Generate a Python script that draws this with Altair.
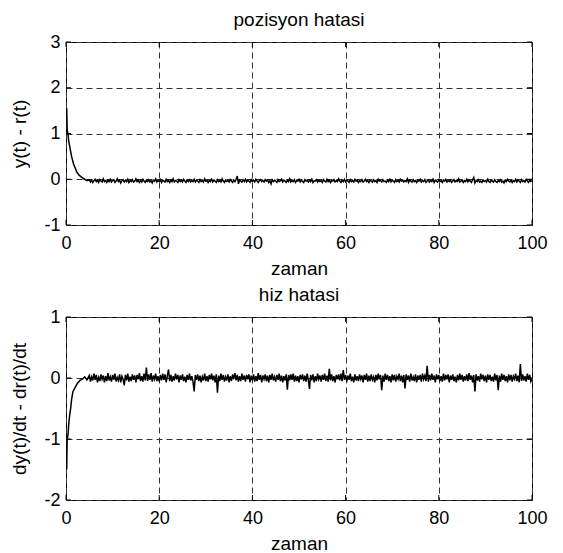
import altair as alt
import pandas as pd

# ---------------- data ----------------
x_ticks = [0, 20, 40, 60, 80, 100]
pos_ticks = [-1, 0, 1, 2, 3]
vel_ticks = [-2, -1, 0, 1]

# transient part (t < 5)
pos_t_start = [0.15, 0.25, 0.4, 0.6, 0.9, 1.2, 1.6, 2.0, 2.3, 2.8, 3.4, 4.0, 4.5]
pos_start = [1.55, 1.08, 1.0, 0.82, 0.66, 0.5, 0.34, 0.24, 0.16, 0.09, 0.04, 0.0, -0.03]

vel_t_start = [0.15, 0.25, 0.4, 0.6, 0.8, 1.0, 1.2, 1.5, 2.0, 2.5, 3.0, 3.5, 4.0, 4.5]
vel_start = [-1.5, -1.0, -0.95, -0.75, -0.6, -0.5, -0.35, -0.22, -0.15, -0.08, -0.04, -0.02, 0.02, -0.03]

# steady part, t = 5 ... 100 every 0.25
pos_steady = [
    -0.01, -0.06, -0.02, -0.07, -0.03, 0.00, -0.05, -0.02, -0.07, -0.01,
    -0.04, -0.06, 0.01, -0.05, -0.03, -0.07, -0.02, -0.05, 0.00, -0.06,
    -0.03, -0.01, -0.07, -0.04, 0.01, -0.05, -0.02, -0.08, -0.03, -0.01,
    -0.06, -0.02, -0.05, 0.00, -0.07, -0.03, -0.05, -0.01, -0.06, -0.04,
    0.01, -0.05, -0.02, -0.07, -0.03, -0.06, 0.00, -0.04, -0.07, -0.02,
    -0.05, -0.01, -0.06, -0.03, -0.08, -0.02, -0.04, 0.01, -0.06, -0.03,
    -0.05, -0.01, -0.07, -0.02, -0.04, -0.06, 0.00, -0.05, -0.03, -0.07,
    -0.02, -0.05, 0.01, -0.06, -0.03, -0.04, -0.07, -0.01, -0.05, -0.02,
    -0.06, 0.00, -0.04, -0.07, -0.02, -0.05, -0.01, -0.06, -0.03, -0.05,
    0.00, -0.06, -0.02, -0.04, -0.07, -0.01, -0.05, -0.03, -0.06, 0.01,
    -0.04, -0.02, -0.07, -0.03, -0.05, 0.00, -0.06, -0.02, -0.04, -0.07,
    -0.01, -0.05, -0.03, -0.06, 0.01, -0.04, -0.07, -0.02, -0.05, -0.03,
    -0.06, -0.01, -0.04, -0.07, -0.02, -0.05, 0.00, 0.07, -0.10, -0.02,
    -0.04, -0.06, -0.01, -0.05, 0.00, -0.06, -0.02, -0.04, -0.07, -0.01,
    -0.05, -0.02, -0.06, 0.00, -0.04, -0.07, -0.03, -0.01, -0.05, -0.03,
    -0.06, -0.01, -0.04, -0.02, -0.07, -0.03, -0.10, -0.01, -0.05, -0.02,
    -0.04, -0.07, -0.01, -0.05, -0.03, 0.00, -0.06, -0.02, -0.04, -0.07,
    -0.02, -0.05, 0.01, -0.06, -0.03, -0.05, -0.01, -0.07, -0.03, -0.04,
    0.00, -0.06, -0.02, -0.05, -0.07, -0.01, -0.04, -0.03, -0.06, -0.02,
    -0.05, 0.00, -0.07, -0.03, -0.04, -0.01, -0.06, -0.02, -0.05, -0.03,
    -0.07, -0.01, -0.04, -0.06, 0.00, -0.05, -0.02, -0.07, -0.03, -0.04,
    -0.01, -0.06, -0.03, -0.05, 0.01, -0.04, -0.07, -0.02, -0.05, 0.00,
    -0.06, -0.02, -0.04, -0.07, -0.01, -0.05, -0.03, -0.06, 0.00, -0.04,
    -0.02, -0.07, -0.03, -0.05, -0.01, -0.06, -0.04, 0.00, -0.05, -0.03,
    -0.07, -0.02, -0.04, -0.06, -0.01, -0.05, -0.03, -0.07, 0.00, -0.04,
    -0.03, -0.06, -0.01, -0.05, -0.04, -0.07, -0.02, -0.05, 0.00, -0.06,
    -0.02, -0.04, -0.07, -0.01, -0.05, -0.03, -0.06, 0.00, -0.04, -0.02,
    -0.06, -0.03, -0.05, 0.01, -0.07, -0.02, -0.04, -0.06, -0.01, -0.05,
    -0.03, -0.07, -0.02, -0.04, 0.00, -0.06, -0.03, -0.05, -0.01, -0.07,
    -0.04, -0.02, -0.06, -0.03, -0.05, 0.00, -0.07, -0.02, -0.04, -0.06,
    -0.01, -0.05, -0.03, -0.07, -0.02, -0.04, 0.00, -0.06, -0.03, -0.05,
    -0.02, -0.07, -0.04, -0.01, -0.06, -0.03, -0.05, 0.01, -0.06, -0.04,
    -0.02, -0.07, -0.03, -0.05, 0.00, -0.06, -0.02, -0.04, -0.07, -0.01,
    0.04, -0.08, -0.03, -0.05, -0.01, -0.06, -0.04, -0.07, -0.02, -0.05,
    -0.03, -0.06, 0.00, -0.05, -0.07, -0.02, -0.04, -0.06, -0.01, -0.05,
    -0.07, -0.03, -0.05, -0.01, -0.06, -0.04, -0.08, -0.02, -0.05, 0.00,
    -0.04, -0.06, -0.02, -0.07, -0.03, -0.05, 0.00, -0.06, -0.02, -0.04,
    -0.07, -0.01, -0.05, -0.03, -0.06, 0.00, -0.04, -0.07, -0.02, -0.05,
    -0.03,
]

vel_steady = [
    0.04, -0.06, 0.02, -0.04, 0.07, -0.03, 0.05, -0.07, 0.01, -0.05,
    0.06, -0.02, 0.04, -0.07, 0.03, -0.05, 0.08, -0.04, 0.02, -0.06,
    0.05, -0.03, 0.07, -0.06, 0.01, -0.04, 0.06, -0.07, 0.03, -0.02,
    -0.12, 0.05, -0.04, 0.07, -0.06, 0.02, -0.05, 0.06, -0.03, 0.04,
    -0.07, 0.05, -0.02, 0.08, -0.05, 0.03, -0.06, 0.07, -0.04, 0.17,
    -0.05, 0.06, -0.03, 0.08, -0.06, 0.04, -0.02, 0.07, -0.05, 0.03,
    -0.06, 0.05, -0.04, 0.07, -0.03, 0.06, -0.07, 0.04, 0.14, -0.05,
    0.05, -0.06, 0.03, -0.04, 0.07, -0.02, 0.05, -0.07, 0.04, -0.03,
    0.06, -0.05, 0.02, -0.07, 0.05, -0.03, 0.07, -0.04, 0.03, -0.06,
    -0.22, 0.05, -0.03, 0.06, -0.05, 0.04, -0.07, 0.02, -0.04, 0.07,
    -0.05, 0.03, -0.06, 0.05, -0.02, 0.07, -0.04, 0.04, -0.07, 0.06,
    -0.24, 0.04, -0.05, 0.07, -0.03, 0.05, -0.06, 0.02, -0.04, 0.06,
    -0.07, 0.03, -0.05, 0.06, -0.02, 0.08, -0.04, 0.05, -0.06, 0.03,
    -0.05, 0.07, -0.03, 0.04, -0.06, 0.05, -0.02, 0.06, -0.07, 0.04,
    -0.04, 0.06, -0.06, 0.03, -0.05, 0.08, -0.03, 0.05, -0.07, 0.04,
    -0.02, 0.06, -0.05, 0.04, -0.07, 0.05, -0.03, 0.07, -0.04, 0.02,
    -0.06, 0.05, -0.03, 0.07, -0.05, 0.04, -0.07, 0.03, -0.04, 0.06,
    -0.19, 0.05, -0.04, 0.06, -0.03, 0.07, -0.06, 0.04, -0.05, 0.03,
    -0.07, 0.05, -0.02, 0.06, -0.05, 0.04, -0.06, 0.07, -0.03, -0.18,
    0.05, -0.04, 0.06, -0.07, 0.03, -0.05, 0.07, -0.02, 0.04, -0.06,
    0.05, -0.03, 0.07, -0.05, 0.04, -0.06, 0.15, -0.04, 0.06, -0.05,
    0.03, -0.07, 0.05, -0.02, 0.06, -0.04, 0.07, -0.05, 0.13, -0.03,
    0.05, -0.06, 0.04, -0.03, 0.07, -0.05, 0.02, -0.07, 0.06, -0.04,
    0.03, -0.05, 0.06, -0.02, 0.04, -0.07, 0.05, -0.03, 0.07, -0.06,
    0.04, -0.05, 0.06, -0.03, 0.02, -0.07, 0.05, -0.04, 0.07, -0.02,
    0.05, -0.20, 0.04, -0.06, 0.07, -0.03, 0.05, -0.05, 0.03, -0.07,
    0.06, -0.04, 0.05, -0.06, 0.03, -0.02, 0.07, -0.05, 0.04, -0.07,
    0.05, -0.17, 0.06, -0.03, 0.04, -0.06, 0.07, -0.04, 0.02, -0.05,
    0.06, -0.07, 0.04, -0.03, 0.05, -0.06, 0.07, -0.02, 0.04, -0.05,
    0.20, -0.06, 0.05, -0.04, 0.07, -0.03, 0.04, -0.07, 0.06, -0.02,
    0.05, -0.05, 0.03, -0.06, 0.07, -0.04, 0.05, -0.02, 0.06, -0.07,
    0.04, -0.03, 0.06, -0.05, 0.02, -0.07, 0.05, -0.04, 0.07, -0.03,
    0.05, -0.06, 0.03, -0.04, 0.06, -0.05, 0.08, -0.03, 0.04, -0.07,
    0.05, -0.22, 0.06, -0.04, 0.03, -0.06, 0.07, -0.02, 0.05, -0.05,
    0.04, -0.07, 0.06, -0.03, 0.05, -0.05, 0.02, -0.06, 0.07, -0.04,
    0.05, -0.20, 0.04, -0.06, 0.07, -0.03, 0.05, -0.05, 0.03, -0.07,
    0.06, -0.04, 0.05, -0.06, 0.03, -0.02, 0.07, -0.05, 0.04, -0.07,
    0.23, -0.05, 0.06, -0.04, 0.03, -0.06, 0.07, -0.03, 0.05, -0.06,
    -0.02,
]

steady_t = [5 + 0.25 * i for i in range(len(pos_steady))]

FONT = "Liberation Sans"
W, H = 466, 183


def panel(t, v, yticks, ydom, title, ytitle):
    df = pd.DataFrame({"t": t, "v": v})
    xs = alt.Scale(domain=[0, 100], nice=False, zero=False)
    ys = alt.Scale(domain=ydom, nice=False, zero=False)
    x = alt.X("t:Q", scale=xs,
              axis=alt.Axis(values=x_ticks, title="zaman", labelExpr="'' + datum.value",
                            labelPadding=9, titlePadding=7))
    y = alt.Y("v:Q", scale=ys,
              axis=alt.Axis(values=yticks, title=ytitle, labelExpr="'' + datum.value",
                            labelPadding=6, titlePadding=14))
    line = alt.Chart(df).mark_line(color="black", strokeWidth=1.5, clip=True).encode(x=x, y=y)

    xt = pd.DataFrame({"t": x_ticks})
    yt = pd.DataFrame({"v": yticks})
    top_t = alt.Chart(xt).mark_rule(color="black", strokeWidth=1).encode(
        x=alt.X("t:Q"), y=alt.value(0), y2=alt.value(5))
    bot_t = alt.Chart(xt).mark_rule(color="black", strokeWidth=1).encode(
        x=alt.X("t:Q"), y=alt.value(H), y2=alt.value(H - 5))
    left_t = alt.Chart(yt).mark_rule(color="black", strokeWidth=1).encode(
        y=alt.Y("v:Q"), x=alt.value(0), x2=alt.value(5))
    right_t = alt.Chart(yt).mark_rule(color="black", strokeWidth=1).encode(
        y=alt.Y("v:Q"), x=alt.value(W), x2=alt.value(W - 5))

    return alt.layer(line, top_t, bot_t, left_t, right_t).properties(
        width=W, height=H,
        title=alt.TitleParams(title, fontSize=19, font=FONT, fontWeight="normal",
                              color="black", offset=3, anchor="middle"),
    )


top = panel(pos_t_start + steady_t, pos_start + pos_steady, pos_ticks, [-1, 3],
            "pozisyon hatasi", "y(t) - r(t)")
bottom = panel(vel_t_start + steady_t, vel_start + vel_steady, vel_ticks, [-2, 1],
               "hiz hatasi", "dy(t)/dt - dr(t)/dt")

chart = alt.vconcat(top, bottom, spacing=6).properties(
    padding={"left": 2, "top": 2, "right": 5, "bottom": 0},
    background="white",
).configure_axis(
    domain=False, ticks=False, tickSize=0,
    labelFont=FONT, labelFontSize=18, labelColor="black",
    labelFlush=False, labelOverlap=False, labelBound=False,
    titleFont=FONT, titleFontSize=19, titleFontWeight="normal", titleColor="black",
    grid=True, gridColor="#333333", gridDash=[6, 4], gridWidth=1, gridOpacity=1,
).configure_view(
    stroke="black", strokeWidth=1,
)

chart.save("out.html", embed_options={"renderer": "svg", "actions": False})
